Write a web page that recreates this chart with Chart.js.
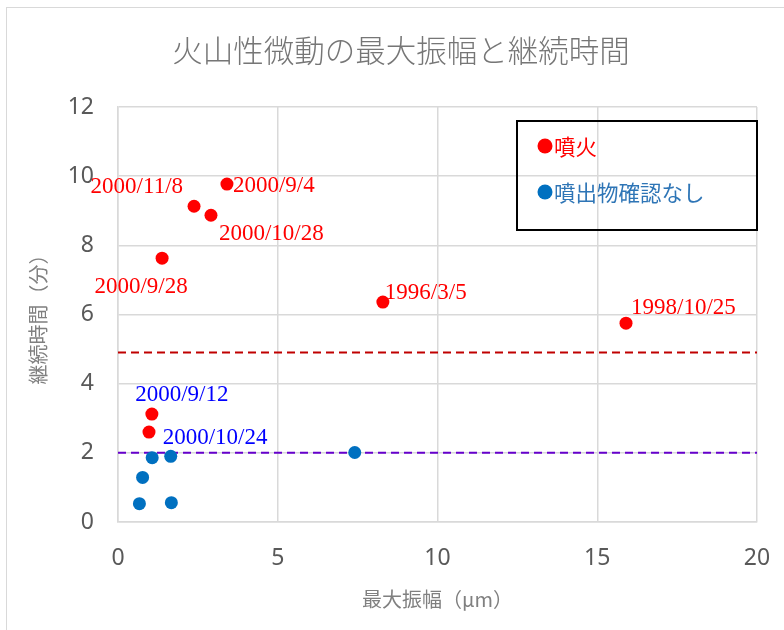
<!DOCTYPE html>
<html>
<head>
<meta charset="utf-8">
<script src="https://cdn.jsdelivr.net/npm/chart.js@4"></script>
<style>
  html, body { margin: 0; padding: 0; background: #fff; overflow: hidden; }
  #wrap { position: relative; width: 784px; height: 630px; }
  #frame { position: absolute; left: 6px; top: 7px; width: 800px; height: 650px; border: 1px solid #d9d9d9; box-sizing: border-box; pointer-events: none; }
</style>
</head>
<body>
<div id="wrap">
  <canvas id="chart" width="784" height="630"></canvas>
  <div id="frame"></div>
</div>
<script>
// 火山性微動のデータ
const TITLE = '火山性微動の最大振幅と継続時間';
const X_TITLE = '最大振幅（μm）';
const Y_TITLE = '継続時間（分）';
const seriesNames = ['噴火', '噴出物確認なし'];

// 噴火
const eruptX = [3.41, 2.38, 2.91, 1.38, 8.29, 15.9, 1.06, 0.97];
const eruptY = [9.77, 9.13, 8.87, 7.63, 6.36, 5.75, 3.12, 2.60];
// 噴出物確認なし
const quietX = [1.07, 1.65, 0.77, 0.67, 1.67, 7.41];
const quietY = [1.86, 1.90, 1.29, 0.53, 0.56, 2.01];

// 基準線
const eruptLevel = 4.9;
const quietLevel = 2.0;

// 軸
const xTicks = [0, 5, 10, 15, 20];
const yTicks = [0, 2, 4, 6, 8, 10, 12];

// 日付ラベル
const eruptLabels = ['2000/9/4', '2000/11/8', '2000/10/28', '2000/9/28', '1996/3/5', '1998/10/25', '2000/9/12', ''];
const quietLabels = ['', '2000/10/24', '', '', '', ''];

// ラベルの見た目 (色, 揃え, px オフセット)
const eruptLabelStyle = [
  ['#ff0000', 'left', 6, 2], ['#ff0000', 'right', -11, -19], ['#ff0000', 'left', 8, 19],
  ['#ff0000', 'center', -21, 29], ['#ff0000', 'left', 2, -9], ['#ff0000', 'left', 5, -15],
  ['#0000ff', 'center', 30, -19], null
];
const quietLabelStyle = [null, ['#0000ff', 'left', -8, -18], null, null, null, null];

const RED = '#ff0000';
const BLUE = '#0070c0';
const legendText = ['#ff0000', '#2e75b6'];

function pts(xs, ys) { return xs.map((x, i) => ({ x: x, y: ys[i] })); }
function hline(v) { return [{ x: xTicks[0], y: v }, { x: xTicks[xTicks.length - 1], y: v }]; }

const pointLabels = {
  id: 'pointLabels',
  afterDatasetsDraw(chart) {
    const ctx = chart.ctx;
    const sets = [[0, eruptLabels, eruptLabelStyle], [1, quietLabels, quietLabelStyle]];
    ctx.save();
    ctx.font = '23px "Liberation Serif", "DejaVu Serif", serif';
    ctx.textBaseline = 'middle';
    sets.forEach(([di, texts, styles]) => {
      const meta = chart.getDatasetMeta(di);
      texts.forEach((t, i) => {
        if (!t) return;
        const s = styles[i];
        const el = meta.data[i];
        ctx.fillStyle = s[0];
        ctx.textAlign = s[1];
        ctx.fillText(t, el.x + s[2], el.y + s[3]);
      });
    });
    ctx.restore();
  }
};

const titleAndLegend = {
  id: 'titleAndLegend',
  afterDraw(chart) {
    const ctx = chart.ctx;
    ctx.save();
    ctx.fillStyle = '#767676';
    ctx.font = '300 30.5px "Noto Sans CJK JP", sans-serif';
    ctx.textAlign = 'center';
    ctx.textBaseline = 'middle';
    ctx.fillText(TITLE, 401, 50);

    // legend box
    ctx.strokeStyle = '#000';
    ctx.lineWidth = 2;
    ctx.strokeRect(517, 121, 240, 109);
    ctx.font = '21.5px "Noto Sans CJK JP", sans-serif';
    ctx.textAlign = 'left';
    seriesNames.forEach((name, i) => {
      const y = 146 + i * 46;
      ctx.fillStyle = chart.data.datasets[i].backgroundColor;
      ctx.beginPath();
      ctx.arc(545, y, 7.5, 0, Math.PI * 2);
      ctx.fill();
      ctx.fillStyle = legendText[i];
      ctx.fillText(name, 554, y + 1);
    });
    ctx.restore();
  }
};

new Chart(document.getElementById('chart').getContext('2d'), {
  type: 'scatter',
  data: {
    datasets: [
      { label: seriesNames[0], data: pts(eruptX, eruptY), backgroundColor: RED, borderColor: RED, pointRadius: 6.5, pointBorderWidth: 0, order: 1 },
      { label: seriesNames[1], data: pts(quietX, quietY), backgroundColor: BLUE, borderColor: BLUE, pointRadius: 6.5, pointBorderWidth: 0, order: 1 },
      { label: 'eruptLevel', data: hline(eruptLevel), showLine: true, borderColor: '#c00000', borderWidth: 2, borderDash: [8, 5], pointRadius: 0, order: 2 },
      { label: 'quietLevel', data: hline(quietLevel), showLine: true, borderColor: '#6600cc', borderWidth: 2, borderDash: [8, 5], pointRadius: 0, order: 2 }
    ]
  },
  options: {
    responsive: false,
    animation: false,
    layout: { padding: { top: 107, right: 27, left: 0, bottom: 0 } },
    plugins: { legend: { display: false }, tooltip: { enabled: false }, title: { display: false } },
    scales: {
      x: {
        type: 'linear', min: xTicks[0], max: xTicks[xTicks.length - 1],
        afterBuildTicks: s => { s.ticks = xTicks.map(v => ({ value: v })); },
        afterFit: s => { s.height = 108; s.paddingLeft = 0; s.paddingRight = 0; },
        grid: { color: '#d9d9d9', lineWidth: 1.5, drawTicks: false },
        border: { color: '#d9d9d9', width: 1.5 },
        ticks: { color: '#595959', font: { family: 'Noto Sans', size: 23 }, padding: 23 },
        title: { display: true, text: X_TITLE, color: '#808080', font: { family: 'Noto Sans CJK JP', size: 20 }, padding: { top: 0, bottom: 19 } }
      },
      y: {
        type: 'linear', min: yTicks[0], max: yTicks[yTicks.length - 1],
        afterBuildTicks: s => { s.ticks = yTicks.map(v => ({ value: v })); },
        afterFit: s => { s.width = 118; s.paddingTop = 0; s.paddingBottom = 0; },
        grid: { color: '#d9d9d9', lineWidth: 1.5, drawTicks: false },
        border: { color: '#d9d9d9', width: 1.5 },
        ticks: { color: '#595959', font: { family: 'Noto Sans', size: 23 }, padding: 24 },
        title: { display: true, text: Y_TITLE, color: '#808080', font: { family: 'Noto Sans CJK JP', size: 20 }, padding: { top: 26, bottom: 0 } }
      }
    }
  },
  plugins: [pointLabels, titleAndLegend]
});
</script>
</body>
</html>
